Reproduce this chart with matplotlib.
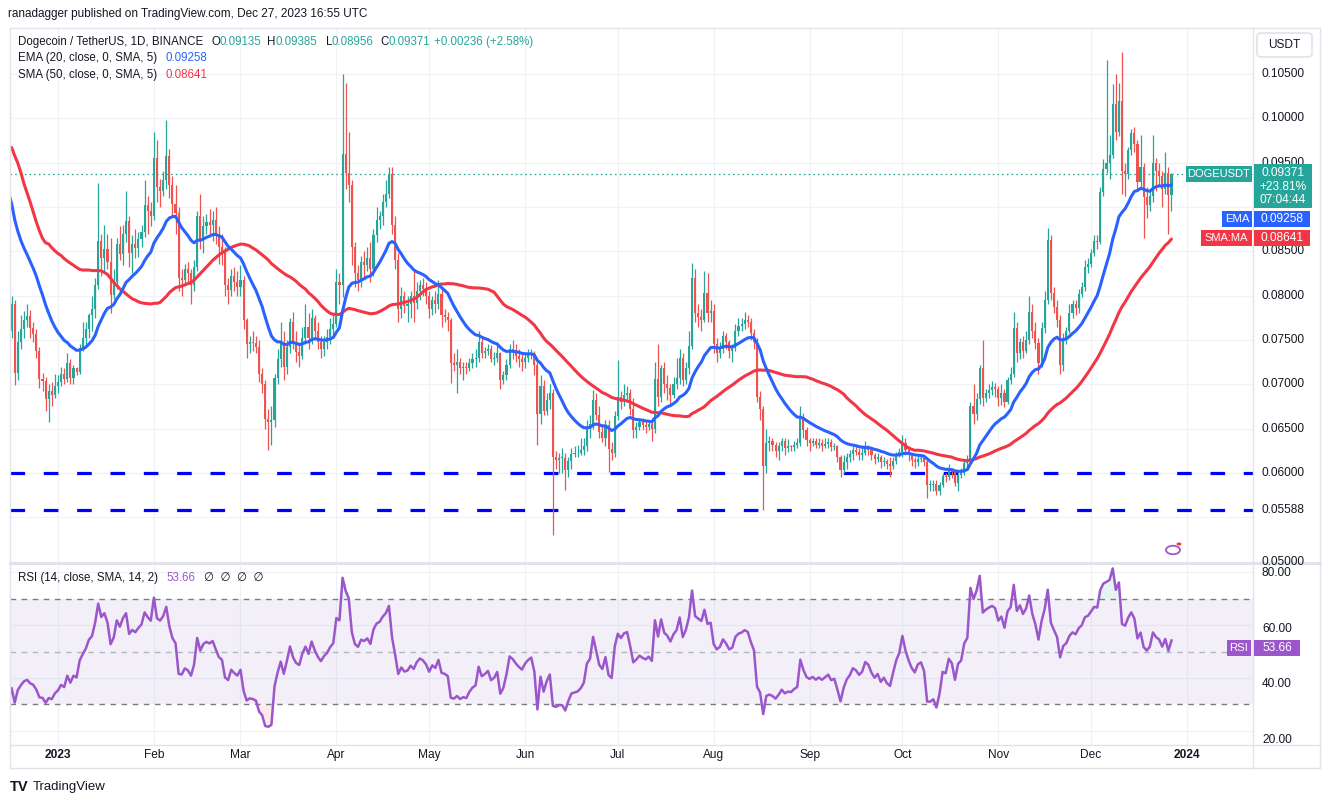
import numpy as np
import pandas as pd
import matplotlib
matplotlib.use("Agg")
import matplotlib.pyplot as plt
from matplotlib.patches import Rectangle, FancyBboxPatch, Circle
from matplotlib.lines import Line2D

plt.rcParams['font.family'] = ['Liberation Sans', 'DejaVu Sans']
plt.rcParams['lines.scale_dashes'] = False

# closes before the visible window (Oct 28 - Dec 16 2022), only used to seed EMA / SMA / RSI
warmup_close = [
    .0830, .1180, .1160, .1300,
    .1400, .1290, .1280, .1330, .1300, .1200, .1130, .0930, .0760, .0900,
    .0870, .0850, .0830, .0880, .0860, .0830, .0830, .0840, .0850, .0790,
    .0760, .0780, .0810, .0820, .0850, .0870, .0940, .0950, .1020, .1030,
    .1050, .1030, .1000, .1040, .0990, .0990, .0930, .0960, .0930, .0930,
    .0910, .0910, .0920, .0920, .0870, .0760,
]

# daily candles (close, high, low) from Dec 17 2022; open = previous close
dec22 = [(.0791, .0800, .0752), (.0713, .0795, .0699), (.0748, .0760, .0705), (.0762, .0778, .0740),
         (.0773, .0783, .0752), (.0777, .0790, .0765), (.0763, .0784, .0752), (.0757, .0770, .0748),
         (.0738, .0762, .0730), (.0706, .0742, .0696), (.0704, .0713, .0692), (.0683, .0708, .0670),
         (.0692, .0700, .0657), (.0688, .0703, .0675), (.0698, .0712, .0684)]
jan = [(.0703, .0710, .0690), (.0712, .0720, .0698), (.0706, .0718, .0700), (.0724, .0735, .0703),
       (.0707, .0728, .0700), (.0718, .0722, .0700), (.0714, .0720, .0710), (.0741, .0745, .0712),
       (.0752, .0770, .0738), (.0762, .0770, .0745), (.0778, .0780, .0752), (.0785, .0800, .0760),
       (.0812, .0820, .0775), (.0862, .0927, .0808), (.0842, .0870, .0822), (.0852, .0880, .0825),
       (.0838, .0870, .0830), (.0801, .0865, .0780), (.0815, .0830, .0796), (.0858, .0865, .0808),
       (.0847, .0878, .0840), (.0870, .0880, .0835), (.0884, .0918, .0860), (.0848, .0890, .0832),
       (.0858, .0868, .0825), (.0854, .0875, .0842), (.0864, .0872, .0843), (.0872, .0880, .0855),
       (.0902, .0930, .0866), (.0895, .0912, .0870), (.0890, .0905, .0878)]
feb = [(.0955, .0985, .0885), (.0922, .0975, .0905), (.0918, .0932, .0900), (.0930, .0940, .0912),
       (.0957, .0998, .0920), (.0925, .0965, .0910), (.0903, .0935, .0890), (.0893, .0925, .0870),
       (.0820, .0900, .0805), (.0818, .0830, .0800), (.0830, .0836, .0812), (.0825, .0838, .0815),
       (.0812, .0830, .0790), (.0832, .0840, .0805), (.0890, .0895, .0828), (.0862, .0915, .0852),
       (.0878, .0890, .0848), (.0883, .0892, .0870), (.0880, .0898, .0868), (.0885, .0895, .0862),
       (.0870, .0900, .0858), (.0855, .0878, .0836), (.0850, .0870, .0835), (.0812, .0855, .0800),
       (.0806, .0820, .0790), (.0822, .0830, .0800), (.0815, .0832, .0805), (.0810, .0828, .0800)]
mar = [(.0818, .0835, .0800), (.0772, .0822, .0762), (.0745, .0775, .0730), (.0748, .0755, .0735),
       (.0746, .0760, .0738), (.0742, .0755, .0735), (.0712, .0750, .0703), (.0700, .0718, .0690),
       (.0661, .0705, .0650), (.0658, .0672, .0626), (.0660, .0675, .0632), (.0707, .0712, .0652),
       (.0728, .0740, .0700), (.0746, .0770, .0720), (.0720, .0760, .0705), (.0742, .0750, .0712),
       (.0770, .0775, .0735), (.0748, .0782, .0740), (.0736, .0760, .0725), (.0732, .0748, .0720),
       (.0752, .0765, .0728), (.0765, .0790, .0745), (.0752, .0780, .0740), (.0775, .0785, .0745),
       (.0760, .0778, .0752), (.0748, .0770, .0740), (.0740, .0755, .0730), (.0748, .0755, .0732),
       (.0753, .0762, .0740), (.0762, .0775, .0745), (.0768, .0780, .0755)]
apr = [(.0815, .0830, .0765), (.0812, .0825, .0790), (.0960, .1050, .0798), (.0938, .1040, .0920),
       (.0925, .0985, .0905), (.0855, .0930, .0835), (.0825, .0860, .0810), (.0818, .0835, .0805),
       (.0838, .0845, .0810), (.0835, .0850, .0820), (.0842, .0855, .0828), (.0830, .0860, .0815),
       (.0868, .0875, .0822), (.0885, .0900, .0860), (.0890, .0895, .0875), (.0905, .0915, .0880),
       (.0915, .0930, .0900), (.0937, .0945, .0910), (.0880, .0945, .0870), (.0840, .0890, .0830),
       (.0785, .0848, .0770), (.0800, .0810, .0775), (.0788, .0805, .0780), (.0790, .0800, .0770),
       (.0800, .0805, .0775), (.0792, .0830, .0770), (.0805, .0815, .0785), (.0812, .0818, .0795),
       (.0808, .0820, .0800), (.0800, .0815, .0790)]
may = [(.0785, .0805, .0775), (.0795, .0800, .0778), (.0790, .0805, .0780), (.0802, .0818, .0785),
       (.0778, .0810, .0765), (.0776, .0785, .0770), (.0772, .0782, .0760), (.0724, .0775, .0701),
       (.0722, .0735, .0715), (.0725, .0740, .0690), (.0718, .0730, .0712), (.0720, .0725, .0705),
       (.0718, .0725, .0712), (.0724, .0730, .0715), (.0728, .0735, .0718), (.0730, .0740, .0720),
       (.0748, .0760, .0725), (.0735, .0752, .0730), (.0737, .0742, .0730), (.0740, .0745, .0733),
       (.0728, .0744, .0725), (.0730, .0736, .0722), (.0735, .0745, .0725), (.0705, .0736, .0695),
       (.0710, .0715, .0700), (.0722, .0728, .0705), (.0740, .0745, .0718), (.0737, .0750, .0728),
       (.0732, .0745, .0725), (.0728, .0740, .0720), (.0725, .0735, .0715)]
jun = [(.0730, .0735, .0718), (.0733, .0740, .0725), (.0735, .0740, .0728), (.0722, .0738, .0710),
       (.0666, .0728, .0632), (.0698, .0710, .0655), (.0670, .0705, .0665), (.0682, .0690, .0665),
       (.0690, .0700, .0672), (.0618, .0695, .0530), (.0615, .0625, .0605), (.0617, .0622, .0600),
       (.0617, .0628, .0600), (.0603, .0622, .0581), (.0613, .0618, .0595), (.0621, .0628, .0605),
       (.0622, .0630, .0618), (.0623, .0632, .0618), (.0626, .0640, .0620), (.0631, .0640, .0620),
       (.0650, .0660, .0625), (.0655, .0665, .0640), (.0682, .0694, .0650), (.0665, .0690, .0660),
       (.0646, .0675, .0640), (.0640, .0655, .0635), (.0654, .0660, .0630), (.0627, .0660, .0601),
       (.0622, .0635, .0615), (.0664, .0670, .0618)]
jul = [(.0686, .0727, .0660), (.0680, .0692, .0672), (.0688, .0700, .0675), (.0690, .0698, .0680),
       (.0672, .0695, .0665), (.0648, .0685, .0640), (.0652, .0658, .0640), (.0657, .0662, .0648),
       (.0654, .0662, .0648), (.0652, .0660, .0645), (.0655, .0660, .0648), (.0650, .0662, .0636),
       (.0706, .0725, .0645), (.0686, .0745, .0675), (.0718, .0722, .0680), (.0700, .0725, .0690),
       (.0696, .0710, .0682), (.0688, .0700, .0678), (.0700, .0708, .0685), (.0707, .0730, .0695),
       (.0730, .0740, .0700), (.0705, .0735, .0698), (.0718, .0725, .0700), (.0743, .0760, .0712),
       (.0820, .0837, .0740), (.0780, .0830, .0770), (.0776, .0790, .0765), (.0772, .0785, .0760),
       (.0803, .0828, .0770), (.0780, .0825, .0770), (.0783, .0795, .0770)]
aug = [(.0745, .0790, .0735), (.0735, .0752, .0725), (.0740, .0748, .0730), (.0755, .0760, .0735),
       (.0748, .0758, .0740), (.0738, .0750, .0730), (.0741, .0745, .0725), (.0760, .0768, .0738),
       (.0766, .0775, .0755), (.0768, .0775, .0760), (.0772, .0781, .0762), (.0770, .0778, .0765),
       (.0758, .0775, .0750), (.0748, .0762, .0740), (.0686, .0752, .0680), (.0672, .0692, .0660),
       (.0608, .0675, .0558), (.0634, .0650, .0600), (.0636, .0642, .0625), (.0632, .0640, .0625),
       (.0625, .0635, .0618), (.0630, .0635, .0615), (.0636, .0640, .0625), (.0628, .0640, .0620),
       (.0630, .0638, .0624), (.0629, .0632, .0625), (.0632, .0636, .0625), (.0634, .0640, .0628),
       (.0663, .0675, .0630), (.0648, .0668, .0640), (.0637, .0652, .0630)]
sep = [(.0634, .0640, .0625), (.0636, .0640, .0630), (.0632, .0640, .0628), (.0634, .0640, .0628),
       (.0631, .0638, .0625), (.0633, .0640, .0628), (.0635, .0640, .0628), (.0629, .0638, .0625),
       (.0630, .0634, .0626), (.0618, .0632, .0612), (.0603, .0620, .0595), (.0612, .0620, .0600),
       (.0618, .0622, .0605), (.0621, .0626, .0612), (.0626, .0630, .0615), (.0624, .0632, .0620),
       (.0620, .0628, .0615), (.0622, .0632, .0615), (.0628, .0636, .0620), (.0626, .0632, .0620),
       (.0620, .0628, .0615), (.0616, .0622, .0610), (.0618, .0622, .0612), (.0612, .0620, .0606),
       (.0614, .0618, .0608), (.0610, .0616, .0604), (.0608, .0618, .0595), (.0614, .0618, .0604),
       (.0620, .0624, .0610), (.0624, .0628, .0618)]
oct_ = [(.0634, .0643, .0618), (.0626, .0640, .0620), (.0620, .0630, .0614), (.0615, .0622, .0608),
        (.0612, .0618, .0606), (.0616, .0620, .0608), (.0617, .0621, .0612), (.0612, .0620, .0608),
        (.0587, .0615, .0572), (.0587, .0592, .0580), (.0588, .0592, .0580), (.0580, .0592, .0575),
        (.0586, .0590, .0575), (.0597, .0600, .0584), (.0596, .0600, .0590), (.0604, .0610, .0592),
        (.0601, .0606, .0594), (.0589, .0602, .0585), (.0598, .0600, .0580), (.0600, .0606, .0594),
        (.0611, .0615, .0598), (.0615, .0620, .0605), (.0675, .0680, .0612), (.0667, .0700, .0655),
        (.0683, .0690, .0660), (.0718, .0722, .0678), (.0684, .0750, .0676), (.0690, .0695, .0680),
        (.0694, .0700, .0684), (.0697, .0704, .0688), (.0695, .0702, .0686)]
nov = [(.0684, .0698, .0675), (.0690, .0700, .0677), (.0680, .0695, .0674), (.0705, .0708, .0678),
       (.0712, .0720, .0700), (.0763, .0782, .0708), (.0735, .0770, .0725), (.0748, .0752, .0728),
       (.0738, .0755, .0730), (.0750, .0760, .0735), (.0782, .0800, .0745), (.0760, .0790, .0752),
       (.0746, .0770, .0740), (.0724, .0752, .0712), (.0763, .0770, .0720), (.0795, .0805, .0758),
       (.0863, .0876, .0790), (.0803, .0868, .0795), (.0787, .0810, .0780), (.0772, .0795, .0765),
       (.0722, .0778, .0712), (.0752, .0758, .0715), (.0760, .0765, .0745), (.0780, .0790, .0758),
       (.0790, .0795, .0775), (.0786, .0795, .0778), (.0802, .0808, .0780), (.0810, .0815, .0798),
       (.0832, .0840, .0805), (.0836, .0842, .0825)]
dec23 = [(.0848, .0852, .0832), (.0861, .0868, .0845), (.0860, .0868, .0852), (.0917, .0922, .0858),
         (.0943, .0954, .0912), (.0950, .1066, .0938), (.0959, .0981, .0932), (.1016, .1038, .0955),
         (.0985, .1050, .0975), (.1019, .1040, .0980), (.0941, .1075, .0914), (.0937, .0950, .0912),
         (.0964, .0968, .0932), (.0983, .0988, .0958), (.0971, .0990, .0962), (.0928, .0975, .0920),
         (.0945, .0981, .0922), (.0911, .0950, .0865), (.0902, .0922, .0888), (.0912, .0920, .0895),
         (.0950, .0981, .0905), (.0940, .0955, .0918), (.0935, .0950, .0925), (.0920, .0940, .0900),
         (.0938, .0962, .0915), (.09135, .0945, .0870), (.09371, .09385, .08956)]

month_names = ['2023', 'Feb', 'Mar', 'Apr', 'May', 'Jun', 'Jul', 'Aug', 'Sep', 'Oct', 'Nov', 'Dec', '2024']
price_ticks = [0.105, 0.100, 0.095, 0.085, 0.080, 0.075, 0.070, 0.065, 0.060, 0.05588, 0.050]
rsi_ticks = [80, 60, 40, 20]
support_lines = [0.060, 0.05588]

# ---------------- data prep ----------------
rows = dec22 + jan + feb + mar + apr + may + jun + jul + aug + sep + oct_ + nov + dec23
nw = len(warmup_close)
close_all = np.array(warmup_close + [r[0] for r in rows])
dates = pd.date_range('2022-10-28', periods=len(close_all), freq='D')
day_all = (dates - pd.Timestamp('2023-01-01')).days.values.astype(float)

c = close_all[nw:]
o = close_all[nw - 1:-1]
h = np.maximum([r[1] for r in rows], np.maximum(o, c))
l = np.minimum([r[2] for r in rows], np.minimum(o, c))
xd = day_all[nw:]

s = pd.Series(close_all)
ema = s.ewm(span=20, adjust=False).mean().values
sma = s.rolling(50).mean().values
delta = s.diff().fillna(0)
gain = delta.clip(lower=0).ewm(alpha=1 / 14, adjust=False).mean()
loss = (-delta.clip(upper=0)).ewm(alpha=1 / 14, adjust=False).mean()
rsi = (100 - 100 / (1 + gain / loss)).values

# ---------------- layout helpers (pixel coords of the 1327x805 picture) ----------------
W, H = 1327, 805
X0, PXD = 58.0, 3.093          # x pixel of Jan 1 2023, pixels per day


def fx(x):
    return x / W


def fy(y):
    return 1 - y / H


def py(p):                      # price -> pixel y in main pane
    return 473 - (p - 0.060) * 8870


def ry(v):                      # rsi -> pixel y
    return 573 + (80 - v) * 2.783


TXT = '#131722'
GRID = '#f0f2f6'
UP, DOWN = '#26a69a', '#ef5350'

fig = plt.figure(figsize=(W / 100, H / 100), dpi=100)
fig.patch.set_facecolor('white')

ax = fig.add_axes([fx(10), fy(562), (1253 - 10) / W, (562 - 28) / H])
axr = fig.add_axes([fx(10), fy(745), (1253 - 10) / W, (745 - 563) / H])
xlim = ((10 - X0) / PXD, (1253 - X0) / PXD)

month_days = [(pd.Timestamp(2023, m, 1) - pd.Timestamp('2023-01-01')).days for m in range(1, 13)] + [365]

for a in (ax, axr):
    a.set_xlim(*xlim)
    a.set_xticks([])
    a.set_yticks([])
    for sp in a.spines.values():
        sp.set_visible(False)
    for d in month_days:
        a.axvline(d, color=GRID, lw=0.9, zorder=0)

ax.set_ylim(0.060 - 89 / 8870, 0.060 + 445 / 8870)
for p in np.arange(0.050, 0.1051, 0.005):
    ax.axhline(p, color=GRID, lw=0.9, zorder=0)

# support lines
for p in support_lines:
    ax.axhline(p, color='#0000ff', lw=2.3, dashes=(10.5, 13.5), zorder=2)

# candles
cols = np.where(c >= o, UP, DOWN)
ax.vlines(xd, l, h, colors=cols, lw=0.9, zorder=3)
ax.bar(xd, np.maximum(np.abs(c - o), 0.00008), bottom=np.minimum(o, c), width=0.68,
       color=cols, lw=0, zorder=4)

# moving averages
ax.plot(day_all[nw - 1:], sma[nw - 1:], color='#f23645', lw=2.2, zorder=5, solid_capstyle='round')
ax.plot(day_all[nw - 1:], ema[nw - 1:], color='#2962ff', lw=2.2, zorder=6, solid_capstyle='round')

# last price dotted line
ax.axhline(c[-1], color=UP, lw=0.9, ls=(0, (1.2, 2.2)), zorder=2)

# ---------------- RSI pane ----------------
axr.set_ylim(80 - 182 / 2.783, 80 + 10 / 2.783)
for v in rsi_ticks:
    axr.axhline(v, color=GRID, lw=0.9, zorder=0)
axr.axhspan(30, 70, color='#7e57c2', alpha=0.09, lw=0, zorder=1)
axr.axhline(70, color='#787b86', lw=1.0, dashes=(4, 4), zorder=2)
axr.axhline(50, color='#b2b5be', lw=1.0, dashes=(4, 4), zorder=2)
axr.axhline(30, color='#787b86', lw=1.0, dashes=(4, 4), zorder=2)
rv = rsi[nw - 1:]
xv = day_all[nw - 1:]
axr.fill_between(xv, 70, rv, where=rv > 70, interpolate=True, color='#26a69a', alpha=0.12, lw=0)
axr.fill_between(xv, 30, rv, where=rv < 30, interpolate=True, color='#ef5350', alpha=0.12, lw=0)
axr.plot(xv, rv, color='#9c56cc', lw=1.8, zorder=4)

# ---------------- frame lines ----------------
FR = '#e0e3eb'
for (x1, y1, x2, y2, w) in [(10, 28, 1320, 28, 1), (10, 28, 10, 768, 1), (1320, 28, 1320, 768, 1),
                            (1253, 28, 1253, 768, 1), (10, 562.5, 1320, 562.5, 2.2),
                            (10, 745, 1320, 745, 1), (10, 768, 1320, 768, 1)]:
    fig.add_artist(Line2D([fx(x1), fx(x2)], [fy(y1), fy(y2)], color=FR, lw=w, transform=fig.transFigure))

# ---------------- text: header and legends ----------------
fs = 8.3
fig.text(fx(8), fy(14), 'ranadagger published on TradingView.com, Dec 27, 2023 16:55 UTC',
         fontsize=8.5, color=TXT, va='center')
fig.text(fx(18), fy(42), 'Dogecoin / TetherUS, 1D, BINANCE', fontsize=fs, color=TXT, va='center')
ohlc = [('O', '0.09135', 212), ('H', '0.09385', 267), ('L', '0.08956', 326), ('C', '0.09371', 380)]
for lab, val, x in ohlc:
    fig.text(fx(x), fy(42), lab, fontsize=fs, color=TXT, va='center')
    fig.text(fx(x + (6 if lab == 'L' else 8)), fy(42), val, fontsize=fs, color=UP, va='center')
fig.text(fx(434), fy(42), '+0.00236 (+2.58%)', fontsize=fs, color=UP, va='center')
fig.text(fx(18), fy(58), 'EMA (20, close, 0, SMA, 5)', fontsize=fs, color=TXT, va='center')
fig.text(fx(166), fy(58), '0.09258', fontsize=fs, color='#2962ff', va='center')
fig.text(fx(18), fy(75), 'SMA (50, close, 0, SMA, 5)', fontsize=fs, color=TXT, va='center')
fig.text(fx(166), fy(75), '0.08641', fontsize=fs, color='#f23645', va='center')
fig.text(fx(18), fy(578), 'RSI (14, close, SMA, 14, 2)', fontsize=fs, color=TXT, va='center')
fig.text(fx(166), fy(578), '53.66', fontsize=fs, color='#9c56cc', va='center')
fig.text(fx(204), fy(578), '\u2205  \u2205  \u2205  \u2205', fontsize=fs, color=TXT, va='center')

# ---------------- right price scale ----------------
for p in price_ticks:
    fig.text(fx(1262), fy(py(p)), f'{p:.5f}', fontsize=8.6, color=TXT, va='center', zorder=3)
for v in rsi_ticks:
    fig.text(fx(1262), fy(ry(v)), f'{v:.2f}', fontsize=8.6, color=TXT, va='center', zorder=3)


def box(x1, y1, x2, y2, color):
    fig.add_artist(Rectangle((fx(x1), fy(y2)), (x2 - x1) / W, (y2 - y1) / H, transform=fig.transFigure,
                             fc=color, ec='none', zorder=10))


def btxt(x, y, t, color='white', size=8.6):
    fig.text(fx(x), fy(y), t, fontsize=size, color=color, ha='center', va='center', zorder=11)


box(1186, 166, 1252, 182, UP)
btxt(1219, 174, 'DOGEUSDT', size=8.0)
box(1254, 164, 1312, 208, UP)
btxt(1283, 173, '0.09371')
btxt(1283, 187, '+23.81%')
btxt(1283, 200, '07:04:44')
box(1222, 211, 1252, 227, '#2962ff')
btxt(1237, 219, 'EMA', size=8.2)
box(1254, 211, 1310, 227, '#2962ff')
btxt(1282, 219, '0.09258')
box(1201, 230, 1252, 246, '#f23645')
btxt(1226.5, 238, 'SMA:MA', size=8.0)
box(1254, 230, 1310, 246, '#f23645')
btxt(1282, 238, '0.08641')
box(1227, 640, 1251, 656, '#9c56cc')
btxt(1239, 648, 'RSI', size=8.2)
box(1254, 640, 1300, 656, '#9c56cc')
btxt(1277, 648, '53.66')

# USDT button
fig.add_artist(FancyBboxPatch((fx(1257), fy(57)), 55 / W, 24 / H, boxstyle='round,pad=0,rounding_size=0.004',
                              transform=fig.transFigure, fc='white', ec=FR, lw=1.2, zorder=10))
btxt(1284, 45, 'USDT', color=TXT)

# small indicator icon in the lower right of the main pane
fig.add_artist(Circle((fx(1173), fy(550)), 7 / W, transform=fig.transFigure, fc='none', ec='#9c56cc', lw=1.3))
fig.add_artist(Circle((fx(1179), fy(544)), 2.5 / W, transform=fig.transFigure, fc='#f23645', ec='none'))

# ---------------- time axis ----------------
for name, d in zip(month_names, month_days):
    bold = name in ('2023', '2024')
    fig.text(fx(X0 + PXD * d), fy(755), name, fontsize=8.6, color=TXT, ha='center', va='center',
             fontweight='bold' if bold else 'normal')

# footer logo
fig.text(fx(10), fy(787), 'TV', fontsize=10.5, fontweight='bold', color=TXT, va='center')
fig.text(fx(33), fy(787), 'TradingView', fontsize=9.5, color=TXT, va='center')

fig.savefig('out.png', dpi=100)
